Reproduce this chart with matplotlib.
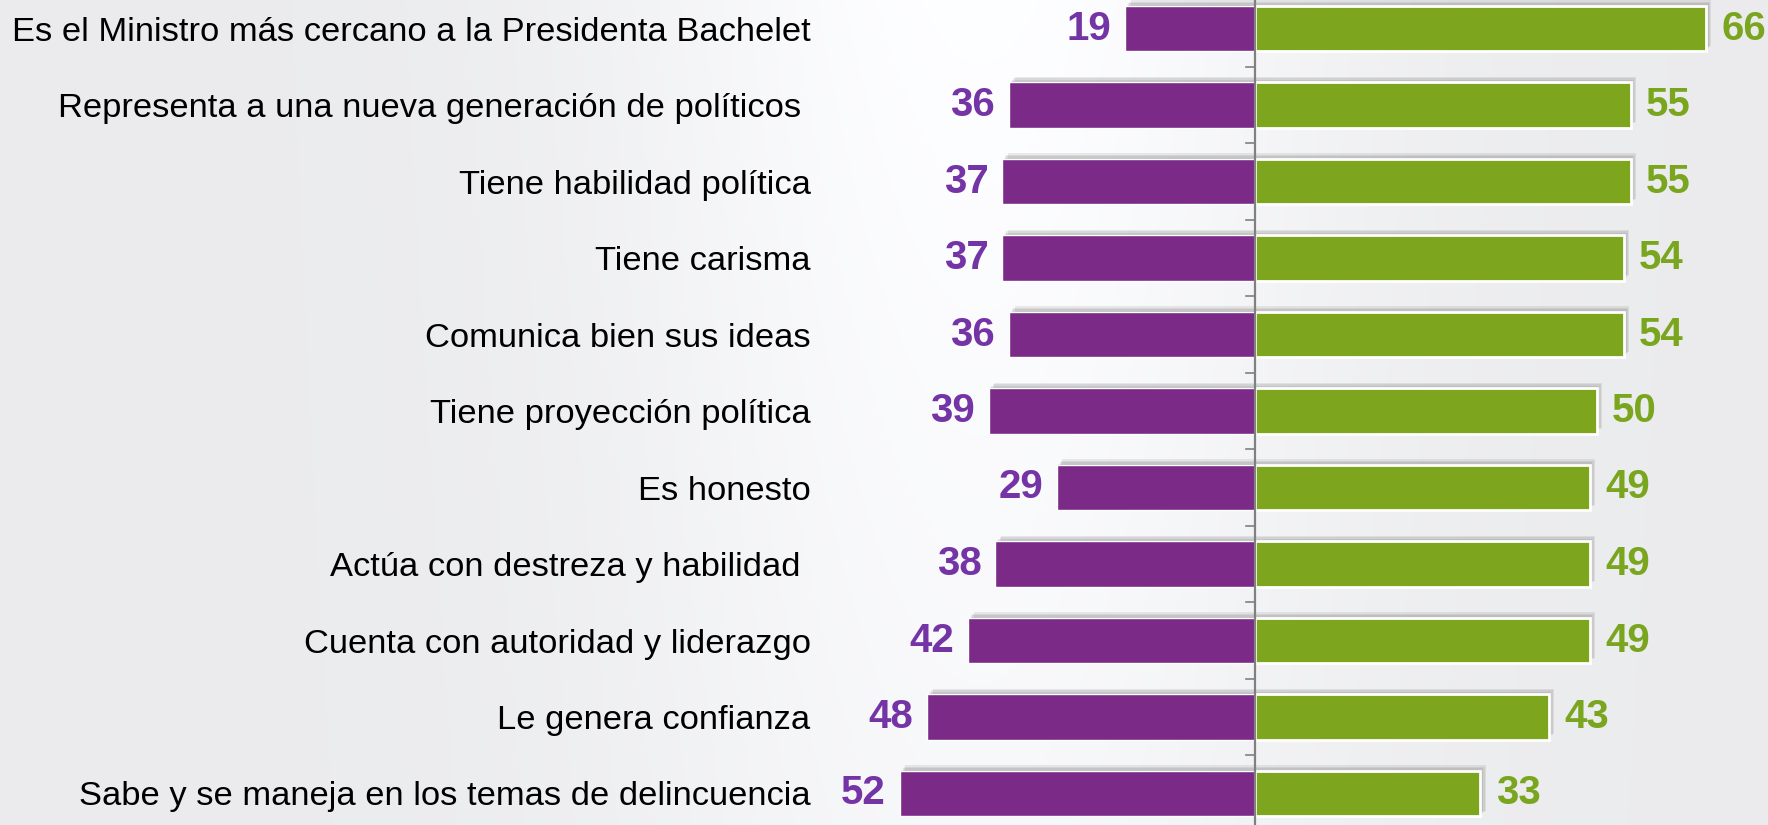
import matplotlib.pyplot as plt
import matplotlib.patheffects as pe
import numpy as np

categories = [
    "Es el Ministro más cercano a la Presidenta Bachelet",
    "Representa a una nueva generación de políticos ",
    "Tiene habilidad política",
    "Tiene carisma",
    "Comunica bien sus ideas",
    "Tiene proyección política",
    "Es honesto",
    "Actúa con destreza y habilidad ",
    "Cuenta con autoridad y liderazgo",
    "Le genera confianza",
    "Sabe y se maneja en los temas de delincuencia",
]
negative = [19, 36, 37, 37, 36, 39, 29, 38, 42, 48, 52]
positive = [66, 55, 55, 54, 54, 50, 49, 49, 49, 43, 33]

purple = "#7b2a88"
green = "#7da51d"
purple_txt = "#7434a6"
green_txt = "#7aa51e"

plt.rcParams["font.family"] = ["Liberation Sans", "DejaVu Sans"]

fig = plt.figure(figsize=(17.68, 8.25), dpi=100)

# background gradient (light grey with a whiter band behind the bars)
W, H = 1768, 825
gx = np.arange(W)[None, :]
gy = np.arange(H)[:, None]
band = np.exp(-((gx - 980) / 360.0) ** 2)
top = 1 - 0.35 * gy / H
val = 235 + 19 * band * top
bg = np.clip(val, 0, 255) / 255.0
bg_rgb = np.clip(np.dstack([bg, bg + 0.002, bg + 0.008]), 0, 1)
bax = fig.add_axes([0, 0, 1, 1])
bax.imshow(bg_rgb, aspect="auto", extent=[0, 1, 0, 1])
bax.axis("off")

ax = fig.add_axes([830 / W, 0, 1 - 830 / W, 1])
ax.patch.set_alpha(0)

y = np.arange(len(categories))
bar_h = 0.59
shadow = [pe.SimplePatchShadow(offset=(k, k), shadow_rgbFace="#606060", alpha=0.12)
          for k in (1, 2, 3, 4)] + [pe.Normal()]

b1 = ax.barh(y, [-v for v in negative], height=bar_h, color=purple,
             edgecolor="white", linewidth=1.0, zorder=2)
b2 = ax.barh(y, positive, height=bar_h, color=green,
             edgecolor="white", linewidth=2.0, zorder=2)
for p in list(b1) + list(b2):
    p.set_path_effects(shadow)

ax.axvline(0, color="#808080", lw=1.6, zorder=3)

for i, (n, p) in enumerate(zip(negative, positive)):
    ax.annotate(str(n), (-n, i), xytext=(-10, 0), textcoords="offset points",
                ha="right", va="center", fontsize=29, fontweight="bold",
                color=purple_txt, annotation_clip=False)
    ax.annotate(str(p), (p, i), xytext=(11, 0), textcoords="offset points",
                ha="left", va="center", fontsize=29, fontweight="bold",
                color=green_txt, annotation_clip=False)

px = 6.83
ax.set_xlim((830 - 1255) / px, (W - 1255) / px)
ax.set_ylim(10 + 31.5 / 76.5, -28.5 / 76.5)

ax.set_yticks(y)
ax.set_yticklabels(categories, fontsize=24.8)
ax.tick_params(axis="y", which="major", length=0, pad=14)
ax.set_xticks([])
for s in ax.spines.values():
    s.set_visible(False)

# short tick marks on the centre line between rows
for t in y[:-1] + 0.5:
    ax.plot([-1.3, 0], [t, t], color="#808080", lw=1.2, zorder=3)

fig.savefig("out.png", dpi=100)
